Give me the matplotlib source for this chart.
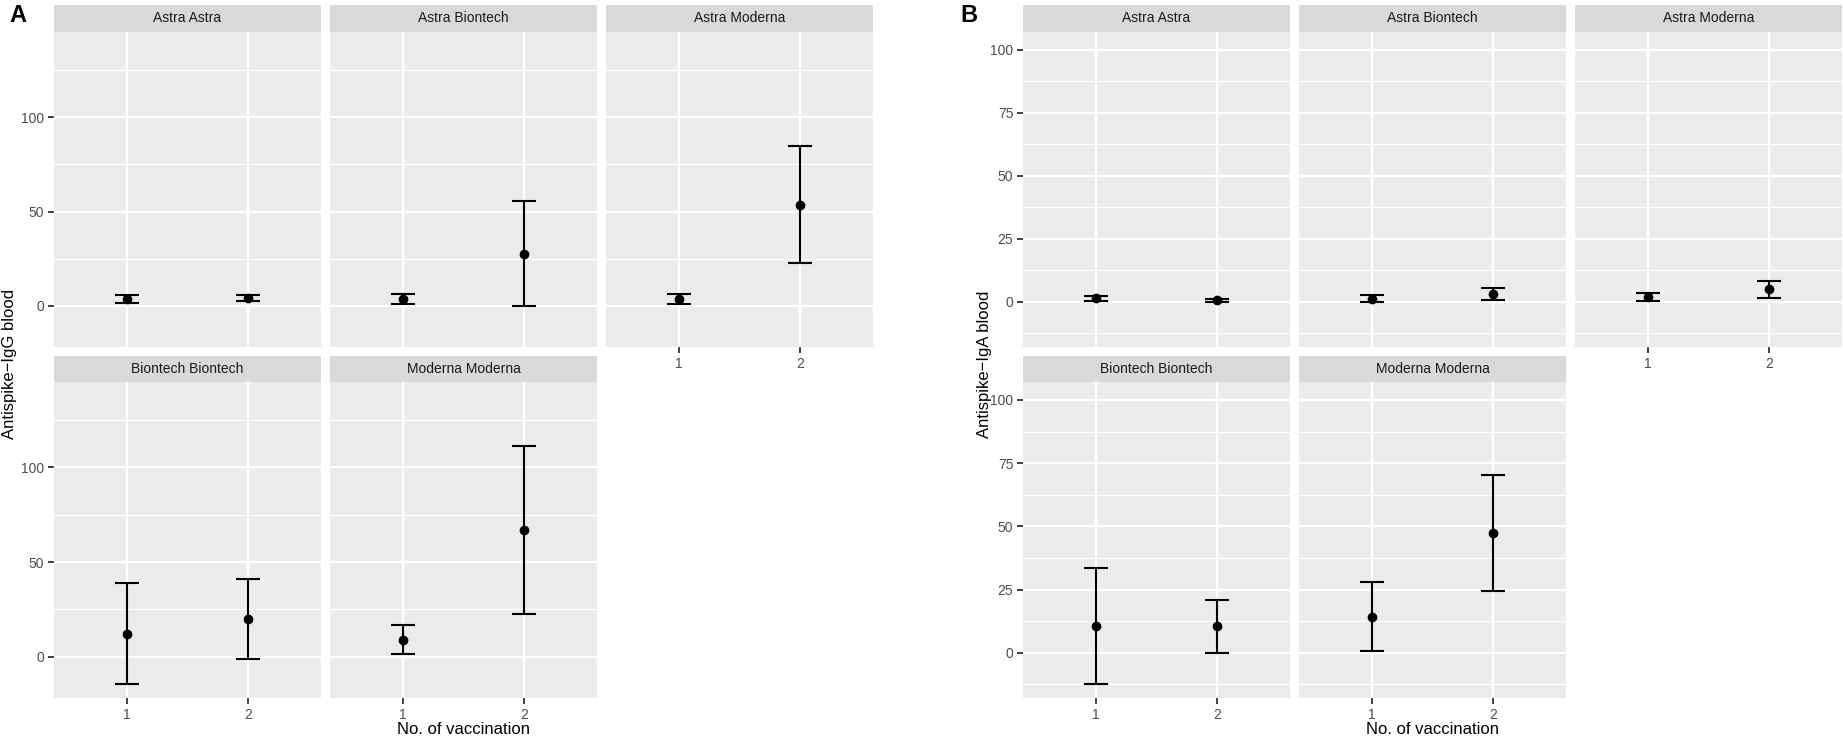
import matplotlib
matplotlib.use("Agg")
import matplotlib.pyplot as plt

plt.rcParams['font.family'] = ['Liberation Sans', 'DejaVu Sans']

# Facet names (facet_wrap order)
facets = ["Astra Astra", "Astra Biontech", "Astra Moderna",
          "Biontech Biontech", "Moderna Moderna"]
vaccination = [1, 2]

# Panel A: Antispike-IgG blood (mean, lower, upper) per facet, per vaccination
igg_mean = [[3.5, 4.4], [3.5, 27.5], [3.5, 53.3], [12.3, 19.9], [8.8, 66.7]]
igg_lo = [[1.6, 2.5], [0.9, 0.0], [1.2, 22.6], [-14.3, -1.1], [1.4, 22.8]]
igg_hi = [[5.8, 5.8], [6.3, 55.4], [6.5, 84.5], [39.0, 41.1], [16.6, 111.1]]

# Panel B: Antispike-IgA blood
iga_mean = [[1.6, 0.7], [1.3, 3.3], [2.0, 5.2], [10.5, 10.5], [14.3, 47.3]]
iga_lo = [[0.5, 0.1], [0.0, 0.7], [0.3, 1.7], [-12.5, 0.0], [0.5, 24.3]]
iga_hi = [[2.5, 1.3], [2.6, 5.7], [3.4, 8.3], [33.6, 20.7], [28.1, 70.4]]

W, H = 1843, 736
fig = plt.figure(figsize=(W / 100, H / 100), dpi=100)

PANEL_BG = "#EBEBEB"
STRIP_BG = "#D9D9D9"
TICK_TXT = "#4D4D4D"
TICK_CLR = "#333333"


def box(x0, y0, x1, y1):
    # pixel box (top-left origin) -> figure fraction
    return [x0 / W, 1 - y1 / H, (x1 - x0) / W, (y1 - y0) / H]


def draw_block(col_x, means, los, his, ylim, major, minor, ylabel, ylab_x):
    col_w = 267
    rows = [(5, 32, 347), (356, 382, 698)]
    for i, name in enumerate(facets):
        r, c = divmod(i, 3)
        s_top, p_top, p_bot = rows[r]
        x0 = col_x[c]
        # strip
        sax = fig.add_axes(box(x0, s_top, x0 + col_w, p_top))
        sax.set_facecolor(STRIP_BG)
        sax.set_xticks([])
        sax.set_yticks([])
        for sp in sax.spines.values():
            sp.set_visible(False)
        sax.text(0.5, 0.5, name, ha='center', va='center', fontsize=10,
                 color="#1A1A1A", transform=sax.transAxes)
        # panel
        ax = fig.add_axes(box(x0, p_top, x0 + col_w, p_bot))
        ax.set_facecolor(PANEL_BG)
        for sp in ax.spines.values():
            sp.set_visible(False)
        ax.set_xlim(0.4, 2.6)
        ax.set_ylim(*ylim)
        ax.set_xticks(vaccination)
        ax.set_yticks(major)
        ax.set_yticks(minor, minor=True)
        ax.grid(True, which='major', color='white', linewidth=1.6)
        ax.grid(True, which='minor', axis='y', color='white', linewidth=0.8)
        ax.set_axisbelow(True)
        ax.tick_params(which='minor', length=0)
        ax.tick_params(which='major', length=4, width=1.3, color=TICK_CLR,
                       labelsize=10, labelcolor=TICK_TXT, pad=3)
        if c != 0:
            ax.tick_params(axis='y', length=0, labelleft=False)
        # x labels only on the lowest panel of each column
        if not (r == 1 or c == 2):
            ax.tick_params(axis='x', length=0, labelbottom=False)

        m, lo, hi = means[i], los[i], his[i]
        ax.vlines(vaccination, lo, hi, color='black', linewidth=1.5, zorder=3)
        for v, a, b in zip(vaccination, lo, hi):
            ax.hlines([a, b], v - 0.1, v + 0.1, color='black', linewidth=1.5, zorder=3)
        ax.plot(vaccination, m, 'o', color='black', markersize=6, zorder=4)

    left = col_x[0]
    right = col_x[2] + col_w
    fig.text(ylab_x / W, 1 - 364 / H, ylabel, rotation=90, ha='center', va='center',
             fontsize=12, color='black')
    fig.text((left + right) / 2 / W, 1 - 734 / H, "No. of vaccination", ha='center',
             va='baseline', fontsize=12, color='black')


draw_block([54, 330, 606], igg_mean, igg_lo, igg_hi, (-21.7, 145),
           [0, 50, 100], [25, 75, 125], "Antispike\u2212IgG blood", 10)
draw_block([1023, 1299, 1575], iga_mean, iga_lo, iga_hi, (-17.9, 107.1),
           [0, 25, 50, 75, 100], [-12.5, 12.5, 37.5, 62.5, 87.5],
           "Antispike\u2212IgA blood", 985)

fig.text(9 / W, 1 - 16 / H, "A", fontsize=17, fontweight='bold', ha='left', va='center')
fig.text(960 / W, 1 - 16 / H, "B", fontsize=17, fontweight='bold', ha='left', va='center')

fig.savefig("out.png", dpi=100)
